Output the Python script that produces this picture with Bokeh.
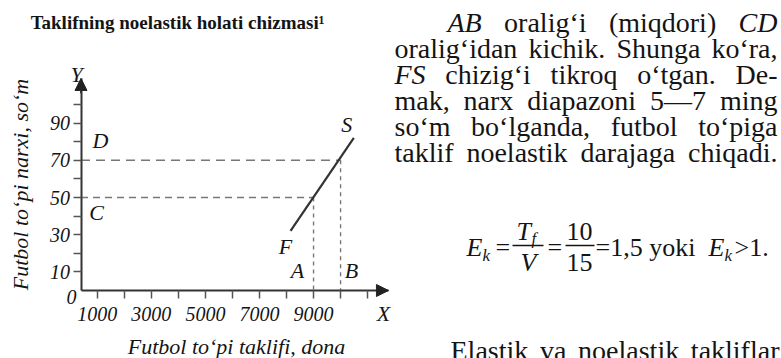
import math
from bokeh.plotting import figure
from bokeh.models import Range1d, FixedTicker, Label, Arrow, NormalHead
from bokeh.embed import file_html
from bokeh.resources import INLINE
from bokeh.core.properties import value

# ---------------- chart data ----------------
chart_title = "Taklifning noelastik holati chizmasi¹"
x_title = "Futbol to‘pi taklifi, dona"
y_title = "Futbol to‘pi narxi, so‘m"

x_ticks = [1000, 2000, 3000, 4000, 5000, 6000, 7000, 8000, 9000, 10000, 11000]
x_tick_labels = ["1000", "", "3000", "", "5000", "", "7000", "", "9000", "", ""]
y_ticks = [10, 20, 30, 40, 50, 60, 70, 80, 90, 100]
y_tick_labels = ["10", "", "30", "", "50", "", "70", "", "90", ""]

supply_q = [8150, 10490]     # F -> S
supply_p = [32, 82]
price_C = 50
price_D = 70
qty_A = 9000
qty_B = 10000

x_min, x_max = 400, 11770
y_min, y_max = 0, 114

FONT = "Liberation Serif"
INK = "#141414"

# ---------------- page geometry (pixels) ----------------
W, H = 781, 358
PX0, PY0 = 80.5, 290.0          # where the chart origin sits
XS = 0.02704                     # px per unit of quantity
YS = 1.86                        # px per unit of price

p = figure(width=W, height=H, title=None,
           x_range=Range1d(x_min - PX0 / XS, x_min + (W - PX0) / XS),
           y_range=Range1d(y_min - (H - PY0) / YS, y_min + PY0 / YS),
           output_backend="svg", toolbar_location=None, min_border=0)
p.extra_x_ranges = {"px": Range1d(0, W)}
p.extra_y_ranges = {"px": Range1d(H, 0)}
p.xgrid.visible = False
p.ygrid.visible = False
p.outline_line_color = None
p.background_fill_color = "white"
p.border_fill_color = "white"

p.xaxis.fixed_location = y_min
p.xaxis.bounds = (x_min, x_max)
p.yaxis.fixed_location = x_min
p.yaxis.bounds = (y_min, y_max)

for ax, ticks, labels in ((p.xaxis, x_ticks, x_tick_labels), (p.yaxis, y_ticks, y_tick_labels)):
    ax.ticker = FixedTicker(ticks=ticks)
    ax.major_label_overrides = {t: l for t, l in zip(ticks, labels)}
    ax.minor_tick_line_color = None
    ax.major_tick_out = 8
    ax.major_tick_in = 0
    ax.major_tick_line_color = "#555555"
    ax.major_tick_line_width = 1.5
    ax.axis_line_color = "#333333"
    ax.axis_line_width = 2
    ax.major_label_text_font = FONT
    ax.major_label_text_font_style = "italic"
    ax.major_label_text_font_size = "20px"
    ax.major_label_text_color = INK
p.xaxis.major_label_standoff = 8
p.yaxis.major_label_standoff = 3

# guide lines
p.segment(x0=[x_min], y0=[price_D], x1=[qty_B], y1=[price_D],
          line_color="#777777", line_width=1.5, line_dash="9 6")
p.segment(x0=[x_min], y0=[price_C], x1=[qty_A], y1=[price_C],
          line_color="#777777", line_width=1.4, line_dash="7 5")
p.segment(x0=[qty_A, qty_B], y0=[price_C, price_D], x1=[qty_A, qty_B], y1=[y_min, y_min],
          line_color="#777777", line_width=1.4, line_dash="4 4")

# supply line
p.line(supply_q, supply_p, line_color="#333333", line_width=2.2)

# axis arrow heads
p.add_layout(Arrow(end=NormalHead(size=12, fill_color="#222222", line_color="#222222"),
                   x_start=x_min, y_start=y_max - 8, x_end=x_min, y_end=y_max,
                   line_color="#333333", line_width=2))
p.add_layout(Arrow(end=NormalHead(size=12, fill_color="#222222", line_color="#222222"),
                   x_start=x_max - 300, y_start=y_min, x_end=x_max, y_end=y_min,
                   line_color="#333333", line_width=2))


def lab(text, x, y, dx, dy, size="22px", style="italic", angle=0.0):
    p.add_layout(Label(x=x, y=y, x_offset=dx, y_offset=dy, text=text,
                       text_font=FONT, text_font_style=style, text_font_size=size,
                       text_align="center", text_baseline="middle", angle=angle,
                       text_color=INK))


lab("0", x_min, y_min, -9.5, -6, size="20px")
lab("Y", x_min, y_max, -4.5, 4)
lab("X", x_max, y_min, -5, -23)
lab("D", x_min, price_D, 19.5, 20)
lab("C", x_min, price_C, 15.5, -15)
lab("A", qty_A, y_min, -16, 20)
lab("B", qty_B, y_min, 11, 20)
lab("F", supply_q[0], supply_p[0], -5, -15.5)
lab("S", supply_q[1], supply_p[1], -7, 13.5)
lab(chart_title, x_min, y_max, 96.5, 56, size="19px", style="bold")
lab(x_title, x_min, y_min, 155.5, -56)
lab(y_title, x_min, y_min, -60.5, 106, angle=math.pi / 2)

# ---------------- text column (pixel coordinates) ----------------
REG = {' ': 250, 'a': 444, 'b': 500, 'c': 444, 'd': 500, 'e': 444, 'f': 333, 'g': 500, 'h': 500,
       'i': 278, 'j': 278, 'k': 500, 'l': 278, 'm': 778, 'n': 500, 'o': 500, 'p': 500, 'q': 500,
       'r': 333, 's': 389, 't': 278, 'u': 500, 'v': 500, 'w': 722, 'x': 500, 'y': 500, 'z': 444,
       'A': 722, 'B': 667, 'C': 667, 'D': 722, 'E': 611, 'F': 556, 'S': 556, 'T': 611, 'V': 722,
       ',': 250, '.': 250, '-': 333, '(': 333, ')': 333, '‘': 333, '—': 1000, '>': 564, '=': 564}
ITA = {'A': 611, 'B': 611, 'C': 667, 'D': 722, 'F': 611, 'S': 500, 'E': 611, 'T': 556, 'V': 611,
       'k': 444, 'f': 278}


def width(word, italic, fs):
    tbl = ITA if italic else {}
    return sum(tbl.get(c, REG.get(c, 500)) for c in word) * fs / 1000.0


lines = [
    ([("AB", True), ("oralig‘i", False), ("(miqdori)", False), ("CD", True)], 447, 777, 22),
    ([("oralig‘idan", False), ("kichik.", False), ("Shunga", False), ("ko‘ra,", False)], 394, 777, 48),
    ([("FS", True), ("chizig‘i", False), ("tikroq", False), ("o‘tgan.", False), ("De-", False)], 394, 777, 74),
    ([("mak,", False), ("narx", False), ("diapazoni", False), ("5—7", False), ("ming", False)], 394, 777, 100),
    ([("so‘m", False), ("bo‘lganda,", False), ("futbol", False), ("to‘piga", False)], 394, 777, 126),
    ([("taklif", False), ("noelastik", False), ("darajaga", False), ("chiqadi.", False)], 394, 777, 152),
    ([("Elastik", False), ("va", False), ("noelastik", False), ("takliflar", False)], 450, 779, 350),
]
FS_TXT = 28

reg_x, reg_y, reg_t = [], [], []
ita_x, ita_y, ita_t = [], [], []
for words, xl, xr, yc in lines:
    ws = [width(w, it, FS_TXT) for w, it in words]
    gap = (xr - xl - sum(ws)) / (len(words) - 1)
    x = xl
    for (w, it), wd in zip(words, ws):
        if it:
            ita_x.append(x); ita_y.append(yc); ita_t.append(w)
        else:
            reg_x.append(x); reg_y.append(yc); reg_t.append(w)
        x += wd + gap

common = dict(x_range_name="px", y_range_name="px", text_font=value(FONT),
              text_baseline="middle", text_color=INK)
p.text(x=reg_x, y=reg_y, text=reg_t, text_font_size=f"{FS_TXT}px", text_align="left", **common)
p.text(x=ita_x, y=ita_y, text=ita_t, text_font_size=f"{FS_TXT}px", text_font_style="italic",
       text_align="left", **common)

# ---------------- formula ----------------
FF = "26px"
fy = 247          # main line
bar_y = 245
num_y, den_y = 231, 262
p.text(x=[495, 547, 595, 734], y=[fy] * 4, text=["=", "=", "=1,5 yoki", ">1."],
       text_font_size=FF, text_align="left", **common)
p.text(x=[466, 708], y=[fy, fy], text=["E", "E"], text_font_size=FF, text_font_style="italic",
       text_align="left", **common)
p.text(x=[482, 724], y=[fy + 8, fy + 8], text=["k", "k"], text_font_size="17px",
       text_font_style="italic", text_align="left", **common)
p.text(x=[516], y=[num_y], text=["T"], text_font_size=FF, text_font_style="italic",
       text_align="left", **common)
p.text(x=[531], y=[num_y + 7], text=["f"], text_font_size="17px", text_font_style="italic",
       text_align="left", **common)
p.text(x=[528], y=[den_y], text=["V"], text_font_size=FF, text_font_style="italic",
       text_align="center", **common)
p.text(x=[579, 579], y=[num_y, den_y], text=["10", "15"], text_font_size=FF,
       text_align="center", **common)
p.segment(x0=[512, 565], y0=[bar_y, bar_y], x1=[543, 594], y1=[bar_y, bar_y],
          x_range_name="px", y_range_name="px", line_color=INK, line_width=1.3)

open("out.html", "w").write(file_html(p, INLINE))
